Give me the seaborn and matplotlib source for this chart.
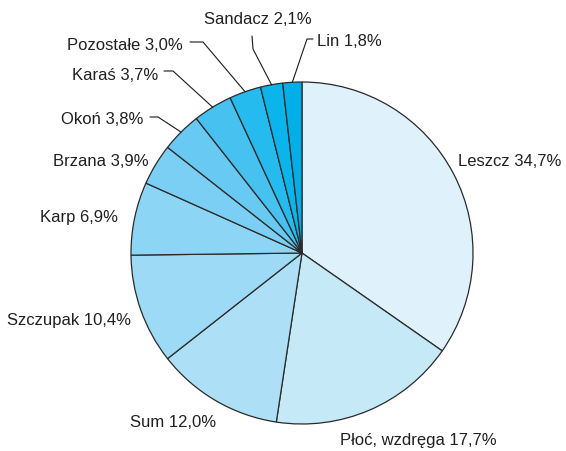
import numpy as np
import matplotlib
matplotlib.use('Agg')
import matplotlib.pyplot as plt
import seaborn as sns

labels = ['Leszcz', 'Płoć, wzdręga', 'Sum', 'Szczupak', 'Karp', 'Brzana',
          'Okoń', 'Karaś', 'Pozostałe', 'Sandacz', 'Lin']
shares = [34.7, 17.7, 12.0, 10.4, 6.9, 3.9, 3.8, 3.7, 3.0, 2.1, 1.8]
colors = ['#dff2fb', '#c6e9f8', '#addff7', '#9ddaf6', '#8dd5f5', '#7ccff4',
          '#68c9f2', '#47c2f0', '#25bbee', '#0bb5ec', '#00aee8']

sns.set_theme(style='white')
plt.rcParams['font.family'] = ['Liberation Sans', 'DejaVu Sans']

W, H = 566, 452
fig = plt.figure(figsize=(W / 100, H / 100), dpi=100)
ax = fig.add_axes([0, 0, 1, 1])

cx, cy, r = 302, H - 254, 171  # pie centre / radius in pixels
wedges, _ = ax.pie(shares, colors=colors, startangle=90, counterclock=False,
                   center=(cx, cy), radius=r, frame=True,
                   wedgeprops=dict(edgecolor='#2a2a2a', linewidth=0.9))
ax.set_xlim(0, W)
ax.set_ylim(0, H)
ax.set_aspect('equal')
ax.axis('off')

txt = '#231f20'
fs = 12

def lab(i):
    return f'{labels[i]} {shares[i]:.1f}%'.replace('.', ',')

# big slices: plain labels
plain = {0: (458, 162), 1: (340, 441), 2: (130, 423), 3: (7, 320), 4: (40, 218), 5: (53, 161)}
for i, (x, y) in plain.items():
    ax.text(x, H - y, lab(i), ha='left', va='center', fontsize=fs, color=txt)

# small slices: labels with leader lines (text anchor, elbow, text side)
leaders = {
    6: ((143, 119), (158, 118), (150, 118), 'right'),
    7: ((158, 75), (173, 72), (164, 72), 'right'),
    8: ((183, 45), (203, 43), (190, 43), 'right'),
    9: ((258, 19), (253, 50), (252, 37), 'center'),
    10: ((317, 41), (307, 40), (313, 40), 'left'),
}
for i, ((tx, ty), (ex, ey), (sx, sy), ha) in leaders.items():
    w = wedges[i]
    a = np.deg2rad((w.theta1 + w.theta2) / 2)
    px, py = cx + r * np.cos(a), cy + r * np.sin(a)
    ax.plot([px, ex, sx], [py, H - ey, H - sy], color='#1a1a1a', lw=0.8)
    ax.text(tx, H - ty, lab(i), ha=ha, va='center', fontsize=fs, color=txt)

plt.savefig('out.png', dpi=100)
plt.close()
